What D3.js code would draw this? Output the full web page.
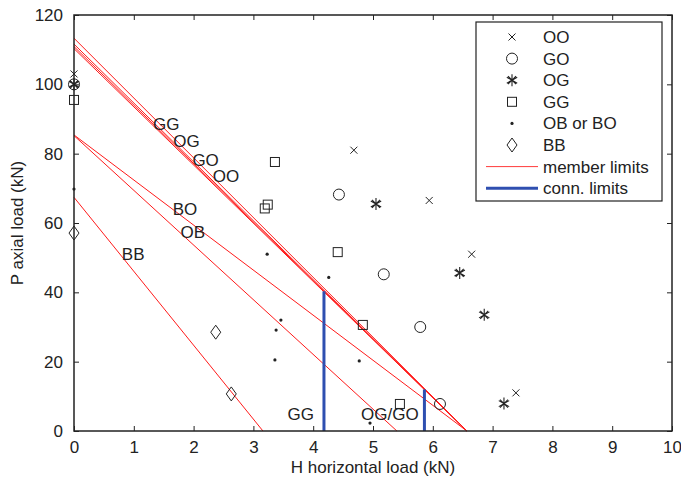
<!DOCTYPE html>
<html><head><meta charset="utf-8">
<script src="https://cdn.jsdelivr.net/npm/d3@7"></script>
<style>body{margin:0;background:#fff}svg{display:block}text{font-family:"Liberation Sans",Arial,sans-serif;fill:#222}</style>
</head><body><svg id="c" width="681" height="485"></svg>
<script>
const xTicks=[0,1,2,3,4,5,6,7,8,9,10];
const yTicks=[0,20,40,60,80,100,120];
const ptsOO=[[0,103],[4.68,81],[5.94,66.5],[6.65,51],[7.39,11]];
const ptsGO=[[0,100],[4.43,68.2],[5.18,45.2],[5.79,30],[6.12,7.8]];
const ptsOG=[[0,100],[5.05,65.5],[6.45,45.6],[6.86,33.5],[7.19,7.9]];
const ptsGG=[[0,95.5],[3.36,77.6],[3.24,65.3],[3.19,64.2],[4.41,51.6],[4.83,30.6],[5.45,7.8]];
const ptsOB=[[0,69.8],[3.23,51],[4.26,44.3],[3.46,32],[3.38,29.1],[3.36,20.5],[4.77,20.2],[4.95,2.3]];
const ptsBB=[[0,57.1],[2.37,28.5],[2.63,10.7]];
const memberLines=[[[0,113.3],[6.57,0]],[[0,111.6],[6.57,0]],[[0,110.9],[6.57,0]],[[0,110.3],[6.57,0]],[[0,85.4],[6.57,0]],[[0,85.2],[5.4,0]],[[0,67.4],[3.16,0]]];
const connLines=[[[4.18,0],[4.18,40.3]],[[5.86,0],[5.86,12.0]]];
const lineLabels=[["GG",1.32,86.8],["OG",1.66,81.8],["GO",1.98,76.5],["OO",2.32,71.9],["BO",1.65,62.2],["OB",1.78,55.6],["BB",0.8,49.2],["GG",3.57,3.2],["OG/GO",4.8,3.2]];
const legendItems=["OO","GO","OG","GG","OB or BO","BB","member limits","conn. limits"];

const svg=d3.select("#c");
const L=74,R=672,T=15,B=431;
const FS=17;
const x=d3.scaleLinear().domain([0,10]).range([L,R]);
const y=d3.scaleLinear().domain([0,120]).range([B,T]);
const g=svg.append("g");
const mstroke="#222";
function marker(sel,type,cx,cy){
  const s=sel.append("g").attr("transform",`translate(${cx},${cy})`).attr("fill","none").attr("stroke",mstroke).attr("stroke-width",1);
  if(type==="OO"){s.append("path").attr("d","M-3.5,-3.5L3.5,3.5M-3.5,3.5L3.5,-3.5");}
  else if(type==="GO"){s.append("circle").attr("r",5.5);}
  else if(type==="OG"){s.append("path").attr("d","M0,-6L0,6M-5.2,-3L5.2,3M-5.2,3L5.2,-3M-4,-4L4,4M-4,4L4,-4").attr("stroke-width",1.1);}
  else if(type==="GG"){s.append("rect").attr("x",-4.5).attr("y",-4.5).attr("width",9).attr("height",9);}
  else if(type==="OB"){s.append("circle").attr("r",1.6).attr("fill",mstroke).attr("stroke","none");}
  else if(type==="BB"){s.append("path").attr("d","M0,-7L5,0L0,7L-5,0Z");}
}
const line=d3.line().x(d=>x(d[0])).y(d=>y(d[1]));
g.selectAll(".m").data(memberLines).join("path").attr("d",line).attr("stroke","#ff1a1a").attr("stroke-width",1).attr("fill","none");
g.selectAll(".c").data(connLines).join("path").attr("d",line).attr("stroke","#2f4fb0").attr("stroke-width",3).attr("fill","none");
g.selectAll(".ll").data(lineLabels).join("text").attr("x",d=>x(d[1])).attr("y",d=>y(d[2])).attr("font-size",FS).text(d=>d[0]);
[["OO",ptsOO],["GO",ptsGO],["OG",ptsOG],["GG",ptsGG],["OB",ptsOB],["BB",ptsBB]].forEach(([t,arr])=>{
  arr.forEach(p=>marker(g,t,x(p[0]),y(p[1])));
});
svg.append("rect").attr("x",L).attr("y",T).attr("width",R-L).attr("height",B-T).attr("fill","none").attr("stroke","#222").attr("stroke-width",1.5);
const xa=d3.axisBottom(x).tickValues(xTicks).tickSize(-5).tickPadding(10).tickFormat(d3.format("d"));
const ya=d3.axisLeft(y).tickValues(yTicks).tickSize(-5).tickPadding(11).tickFormat(d3.format("d"));
const gx=svg.append("g").attr("transform",`translate(0,${B})`).call(xa);
const gy=svg.append("g").attr("transform",`translate(${L},0)`).call(ya);
[gx,gy].forEach(a=>{a.select(".domain").remove();a.selectAll("text").attr("font-size",FS).attr("fill","#222").attr("font-family","Liberation Sans, Arial, sans-serif");a.selectAll("line").attr("stroke","#222");});
svg.append("g").attr("transform",`translate(0,${T})`).call(d3.axisTop(x).tickValues(xTicks).tickSize(-5).tickFormat("")).call(a=>{a.select(".domain").remove();a.selectAll("line").attr("stroke","#222");});
svg.append("g").attr("transform",`translate(${R},0)`).call(d3.axisRight(y).tickValues(yTicks).tickSize(-5).tickFormat("")).call(a=>{a.select(".domain").remove();a.selectAll("line").attr("stroke","#222");});
svg.append("text").attr("x",(L+R)/2).attr("y",473).attr("text-anchor","middle").attr("font-size",FS).text("H horizontal load (kN)");
svg.append("text").attr("transform",`translate(23,${(T+B)/2}) rotate(-90)`).attr("text-anchor","middle").attr("font-size",FS).text("P axial load (kN)");
const lg=svg.append("g");
lg.append("rect").attr("x",476).attr("y",22).attr("width",186).attr("height",179).attr("fill","#fff").attr("stroke","#222").attr("stroke-width",1.2);
const types=["OO","GO","OG","GG","OB","BB"];
legendItems.forEach((t,i)=>{
  const yy=37+i*21.6;
  if(i<6) marker(lg,types[i],512,yy);
  else lg.append("line").attr("x1",486).attr("x2",538).attr("y1",yy).attr("y2",yy).attr("stroke",i===6?"#ff3b3b":"#2f4fb0").attr("stroke-width",i===6?1:3);
  lg.append("text").attr("x",543).attr("y",yy+6).attr("font-size",FS).text(t);
});
</script></body></html>
